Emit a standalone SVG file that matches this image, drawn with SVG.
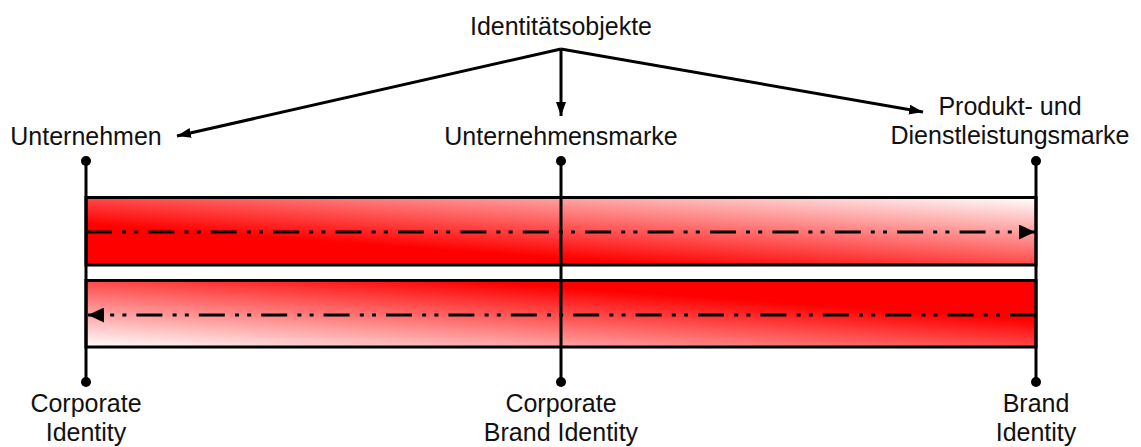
<svg xmlns="http://www.w3.org/2000/svg" width="1141" height="447" viewBox="0 0 1141 447">
  <style>
    .lbl { font-family: "Liberation Sans", Arial, sans-serif; font-size: 25px; fill: #111; text-anchor: middle; }
    .conn { stroke: #000; stroke-width: 3; fill: none; }
    .axis { stroke: #000; stroke-width: 3; }
    .band { stroke: #000; stroke-width: 3; }
    .flow { stroke: #000; stroke-width: 3; fill: none; stroke-dasharray: 26 10 4 8.2 4 10.2; }
  </style>
  <defs>
    <linearGradient id="gradTop" x1="0" y1="1" x2="1" y2="0">
      <stop offset="0" stop-color="#ff0000"/>
      <stop offset="0.3" stop-color="#ff0000"/>
      <stop offset="1" stop-color="#ffffff"/>
    </linearGradient>
    <linearGradient id="gradBottom" x1="1" y1="0" x2="0" y2="1">
      <stop offset="0" stop-color="#ff0000"/>
      <stop offset="0.3" stop-color="#ff0000"/>
      <stop offset="1" stop-color="#ffffff"/>
    </linearGradient>
    <marker id="arrow" markerUnits="userSpaceOnUse" markerWidth="14" markerHeight="10" refX="14" refY="5" orient="auto">
      <path d="M0,0 L14,5 L0,10 Z" fill="#000"/>
    </marker>
    <marker id="flowHead" markerUnits="userSpaceOnUse" markerWidth="16" markerHeight="15" refX="16" refY="7.5" orient="auto">
      <path d="M0,0 L16,7.5 L0,15 Z" fill="#000"/>
    </marker>
  </defs>

  <!-- red bands -->
  <g id="band-top">
    <rect class="band" x="86" y="197.5" width="950" height="67.5" fill="url(#gradTop)"/>
  </g>
  <g id="band-bottom">
    <rect class="band" x="86" y="280.5" width="950" height="66.5" fill="url(#gradBottom)"/>
  </g>

  <!-- vertical axes with end dots -->
  <g id="axis-left">
    <line class="axis" x1="86" y1="161" x2="86" y2="382"/>
    <circle cx="86" cy="161" r="5"/>
    <circle cx="86" cy="382" r="5"/>
  </g>
  <g id="axis-middle">
    <line class="axis" x1="561" y1="161" x2="561" y2="382"/>
    <circle cx="561" cy="161" r="5"/>
    <circle cx="561" cy="382" r="5"/>
  </g>
  <g id="axis-right">
    <line class="axis" x1="1036" y1="161" x2="1036" y2="382"/>
    <circle cx="1036" cy="161" r="5"/>
    <circle cx="1036" cy="382" r="5"/>
  </g>

  <!-- connectors -->
  <g id="connectors">
    <line class="conn" x1="561" y1="49" x2="177" y2="136" marker-end="url(#arrow)"/>
    <line class="conn" x1="561" y1="49" x2="561" y2="116" marker-end="url(#arrow)"/>
    <line class="conn" x1="561" y1="49" x2="923" y2="112" marker-end="url(#arrow)"/>
    <path class="flow" d="M86,232 L1035,232" marker-end="url(#flowHead)"/>
    <path class="flow" d="M1036,315 L88,315" marker-end="url(#flowHead)"/>
  </g>

  <!-- labels -->
  <g id="node-identitaetsobjekte">
    <text class="lbl" x="561" y="35">Identitätsobjekte</text>
  </g>
  <g id="node-unternehmen">
    <text class="lbl" x="86" y="145">Unternehmen</text>
  </g>
  <g id="node-unternehmensmarke">
    <text class="lbl" x="561" y="145">Unternehmensmarke</text>
  </g>
  <g id="node-produktmarke">
    <text class="lbl" x="1010" y="115">Produkt- und</text>
    <text class="lbl" x="1010" y="144">Dienstleistungsmarke</text>
  </g>
  <g id="node-corporate-identity">
    <text class="lbl" x="86" y="412">Corporate</text>
    <text class="lbl" x="86" y="441">Identity</text>
  </g>
  <g id="node-corporate-brand-identity">
    <text class="lbl" x="561" y="412">Corporate</text>
    <text class="lbl" x="561" y="441">Brand Identity</text>
  </g>
  <g id="node-brand-identity">
    <text class="lbl" x="1036" y="412">Brand</text>
    <text class="lbl" x="1036" y="441">Identity</text>
  </g>
</svg>
